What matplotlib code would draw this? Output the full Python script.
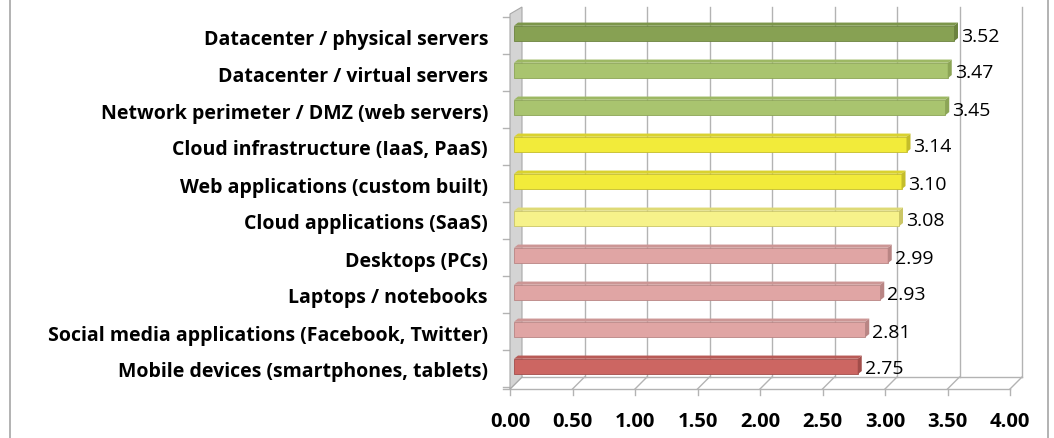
import matplotlib.pyplot as plt
from matplotlib.patches import Polygon
from matplotlib.lines import Line2D

categories = [
    "Datacenter / physical servers",
    "Datacenter / virtual servers",
    "Network perimeter / DMZ (web servers)",
    "Cloud infrastructure (IaaS, PaaS)",
    "Web applications (custom built)",
    "Cloud applications (SaaS)",
    "Desktops (PCs)",
    "Laptops / notebooks",
    "Social media applications (Facebook, Twitter)",
    "Mobile devices (smartphones, tablets)",
]
values = [3.52, 3.47, 3.45, 3.14, 3.10, 3.08, 2.99, 2.93, 2.81, 2.75]
x_ticks = [0.0, 0.5, 1.0, 1.5, 2.0, 2.5, 3.0, 3.5, 4.0]

# front / top / side face colours per bar
front_cols = ["#87A153", "#A9C46F", "#A9C46F", "#F2EB3A", "#F2EB3A",
              "#F6F28A", "#E0A5A4", "#E0A5A4", "#E0A5A4", "#CC6662"]
top_cols = ["#7C964A", "#9DB863", "#9DB863", "#D9D22F", "#D9D22F",
            "#DEDA76", "#CC9695", "#CC9695", "#CC9695", "#B85A56"]
side_cols = ["#6C833F", "#8CA556", "#8CA556", "#C4BD2A", "#C4BD2A",
             "#CBC666", "#B98584", "#B98584", "#B98584", "#A24D4A"]

W, H = 1054, 439
PX = 125.0   # pixels per unit on x
PY = 37.0    # pixels per category
X0 = 514     # pixel of value 0 (bar front)
Y0 = 34.5    # pixel of first category centre
FONT = "Open Sans"

fig = plt.figure(figsize=(W / 100, H / 100), dpi=100)
ax = fig.add_axes([0, 0, 1, 1])
ax.set_xlim(-X0 / PX, (W - X0) / PX)
ax.set_ylim((H - Y0) / PY, -Y0 / PY)
ax.axis("off")

dxb = 8 / PX     # back wall offset
dxf = -4 / PX    # front floor offset
ytop = (8 - Y0) / PY
yback = (378 - Y0) / PY
yfront = (390 - Y0) / PY
yfront_top = (15 - Y0) / PY
grid_c = "#B3B3B3"

# left side wall
wall = Polygon([(dxf, yfront), (dxf, yfront_top), (dxb, ytop), (dxb, yback)],
               closed=True, facecolor="#D4D4D4", edgecolor="#A8A8A8", lw=0.8, zorder=1)
ax.add_patch(wall)

# back wall gridlines + floor diagonals + front ticks
for v in x_ticks:
    if v > 0:
        ax.plot([v + dxb, v + dxb], [ytop, yback], color=grid_c, lw=1, zorder=0)
    ax.plot([v + dxf, v + dxb], [yfront, yback], color=grid_c, lw=1, zorder=0)
    ax.plot([v + dxf, v + dxf], [yfront, yfront + 6 / PY], color=grid_c, lw=1, zorder=0)
    ax.text(v + dxf, (422 - Y0) / PY, f"{v:.2f}", ha="center", va="center",
            fontsize=14.5, fontweight="bold", family=FONT)

ax.plot([dxf - 7 / PX, x_ticks[-1] + dxf], [yfront, yfront], color=grid_c, lw=1, zorder=0)
ax.plot([dxb, x_ticks[-1] + dxb], [yback, yback], color=grid_c, lw=1, zorder=0)

# category ticks on the left axis
for k in range(len(categories) + 1):
    yk = k - 0.5 + 1.5 / PY
    ax.plot([dxf - 7 / PX, dxf], [yk, yk], color=grid_c, lw=1, zorder=0)

# bars
h = 15.5 / PY
ddx = 4 / PX
ddy = 3.2 / PY
idx = list(range(len(categories)))
ax.barh(idx, values, height=h, color=front_cols, edgecolor=side_cols,
        linewidth=0.6, zorder=3)
for i, v in zip(idx, values):
    top = i - h / 2
    bot = i + h / 2
    ax.add_patch(Polygon([(0, top), (v, top), (v + ddx, top - ddy), (ddx, top - ddy)],
                         closed=True, facecolor=top_cols[i], edgecolor="none", zorder=3))
    ax.add_patch(Polygon([(v, top), (v + ddx, top - ddy), (v + ddx, bot - ddy), (v, bot)],
                         closed=True, facecolor=side_cols[i], edgecolor="none", zorder=3))
    ax.text(v + ddx + 3 / PX, i + 2 / PY, f"{v:.2f}", ha="left", va="center",
            fontsize=14, family=FONT, zorder=4)
    ax.text(-26 / PX, i + 5 / PY, categories[i], ha="right", va="center",
            fontsize=14, fontweight="bold", family=FONT)

# chart area border (left and right edges)
fig.add_artist(Line2D([10 / W, 10 / W], [0, 1], color="#A6A6A6", lw=1.2))
fig.add_artist(Line2D([1048 / W, 1048 / W], [0, 1], color="#A6A6A6", lw=1.2))

fig.savefig("out.png", dpi=100)
